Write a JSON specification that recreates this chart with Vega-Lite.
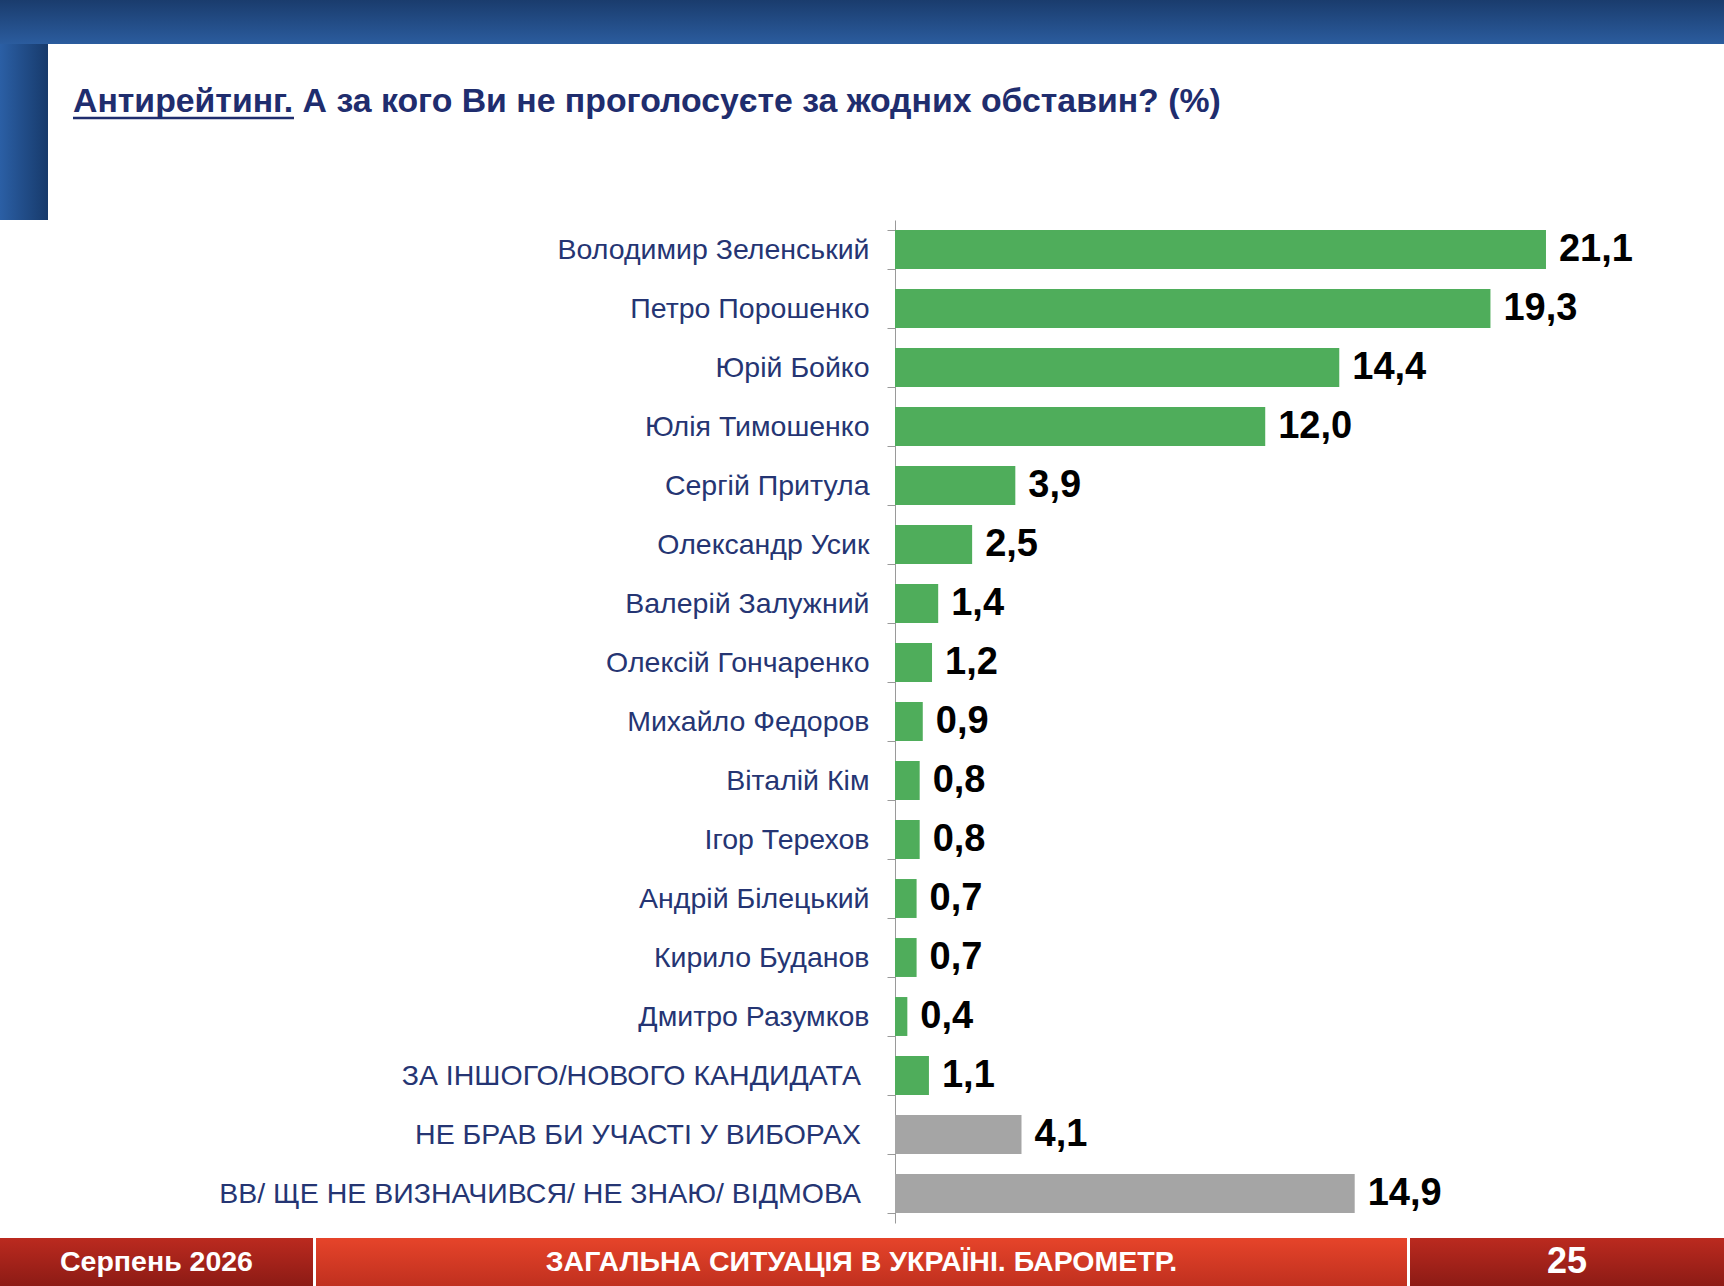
{
  "$schema": "https://vega.github.io/schema/vega-lite/v6.json",
  "padding": 0,
  "spacing": 0,
  "bounds": "flush",
  "background": "white",
  "config": {
    "view": {"stroke": null},
    "font": "Liberation Sans",
    "locale": {"number": {"decimal": ",", "thousands": " ", "grouping": [3], "currency": ["", " грн"]}}
  },
  "vconcat": [
    {
      "width": 1724,
      "height": 44,
      "data": {"values": [{"a": 0, "b": 1}]},
      "mark": {
        "type": "rect",
        "fill": {"gradient": "linear", "x1": 0, "y1": 0, "x2": 0, "y2": 1,
          "stops": [{"offset": 0, "color": "#1a3c6d"}, {"offset": 1, "color": "#2b5c9e"}]}
      },
      "encoding": {
        "x": {"field": "a", "type": "quantitative", "scale": {"domain": [0, 1]}, "axis": null},
        "x2": {"field": "b"},
        "y": {"field": "a", "type": "quantitative", "scale": {"domain": [0, 1]}, "axis": null},
        "y2": {"field": "b"}
      }
    },
    {
      "width": 1724,
      "height": 176,
      "data": {"values": [{"title": "Антирейтинг. А за кого Ви не проголосуєте за жодних обставин? (%)"}]},
      "layer": [
        {
          "mark": {
            "type": "rect",
            "fill": {"gradient": "linear", "x1": 0, "y1": 0, "x2": 1, "y2": 0,
              "stops": [{"offset": 0, "color": "#2b5fa5"}, {"offset": 1, "color": "#173a6b"}]}
          },
          "encoding": {"x": {"value": 0}, "x2": {"value": 48}, "y": {"value": 0}, "y2": {"value": "height"}}
        },
        {
          "mark": {"type": "text", "align": "left", "baseline": "alphabetic", "fontSize": 33.8, "fontWeight": "bold", "color": "#1f2d6e"},
          "encoding": {"text": {"field": "title"}, "x": {"value": 73}, "y": {"value": 68}}
        },
        {
          "mark": {"type": "rule", "color": "#1f2d6e", "strokeWidth": 2.5},
          "encoding": {"x": {"value": 73}, "x2": {"value": 294}, "y": {"value": 74}}
        }
      ]
    },
    {
      "width": 1724,
      "height": 1003,
      "data": {"values": [
        {"name": "Володимир Зеленський", "value": 21.1, "group": "кандидат"},
        {"name": "Петро Порошенко", "value": 19.3, "group": "кандидат"},
        {"name": "Юрій Бойко", "value": 14.4, "group": "кандидат"},
        {"name": "Юлія Тимошенко", "value": 12.0, "group": "кандидат"},
        {"name": "Сергій Притула", "value": 3.9, "group": "кандидат"},
        {"name": "Олександр Усик", "value": 2.5, "group": "кандидат"},
        {"name": "Валерій Залужний", "value": 1.4, "group": "кандидат"},
        {"name": "Олексій Гончаренко", "value": 1.2, "group": "кандидат"},
        {"name": "Михайло Федоров", "value": 0.9, "group": "кандидат"},
        {"name": "Віталій Кім", "value": 0.8, "group": "кандидат"},
        {"name": "Ігор Терехов", "value": 0.8, "group": "кандидат"},
        {"name": "Андрій Білецький", "value": 0.7, "group": "кандидат"},
        {"name": "Кирило Буданов", "value": 0.7, "group": "кандидат"},
        {"name": "Дмитро Разумков", "value": 0.4, "group": "кандидат"},
        {"name": "ЗА ІНШОГО/НОВОГО КАНДИДАТА", "value": 1.1, "group": "кандидат"},
        {"name": "НЕ БРАВ БИ УЧАСТІ У ВИБОРАХ", "value": 4.1, "group": "інше"},
        {"name": "ВВ/ ЩЕ НЕ ВИЗНАЧИВСЯ/ НЕ ЗНАЮ/ ВІДМОВА", "value": 14.9, "group": "інше"}
      ]},
      "encoding": {
        "y": {
          "field": "name",
          "type": "nominal",
          "sort": null,
          "scale": {"paddingInner": 0.34, "paddingOuter": 0.17},
          "axis": {
            "title": null,
            "offset": -895,
            "tickBand": "extent",
            "tickSize": 8,
            "tickColor": "#9a9a9a",
            "domainColor": "#9a9a9a",
            "labelFontSize": 28.5,
            "labelColor": "#253573",
            "labelPadding": 18,
            "labelLimit": 0,
            "labelExpr": "upper(datum.label) === datum.label ? '' : datum.label"
          }
        },
        "x": {"field": "value", "type": "quantitative", "scale": {"domain": [0, 26.87], "range": [895, 1724], "nice": false}, "axis": null}
      },
      "layer": [
        {
          "mark": {"type": "bar"},
          "encoding": {
            "color": {"field": "group", "type": "nominal", "scale": {"domain": ["кандидат", "інше"], "range": ["#4fad5b", "#a5a5a5"]}, "legend": null}
          }
        },
        {
          "mark": {"type": "text", "align": "left", "dx": 13, "fontSize": 38, "fontWeight": "bold", "color": "#000000"},
          "encoding": {"text": {"field": "value", "type": "quantitative", "format": ".1f"}}
        },
        {
          "transform": [{"filter": "upper(datum.name) === datum.name"}],
          "mark": {"type": "text", "align": "right", "dx": -34, "fontSize": 28.5, "color": "#253573"},
          "encoding": {"x": {"datum": 0}, "text": {"field": "name"}}
        }
      ]
    },
    {
      "width": 1724,
      "height": 15,
      "data": {"values": []},
      "mark": "point"
    },
    {
      "hconcat": [
        {
          "width": 313,
          "height": 48,
          "data": {"values": [{"t": "Серпень 2026"}]},
          "layer": [
            {
              "mark": {"type": "rect", "fill": {"gradient": "linear", "x1": 0, "y1": 0, "x2": 0, "y2": 1,
                "stops": [{"offset": 0, "color": "#bb2a1f"}, {"offset": 1, "color": "#8c1b15"}]}},
              "encoding": {"x": {"value": 0}, "x2": {"value": "width"}, "y": {"value": 0}, "y2": {"value": "height"}}
            },
            {
              "mark": {"type": "text", "fontSize": 28.5, "fontWeight": "bold", "color": "white"},
              "encoding": {"text": {"field": "t"}}
            }
          ]
        },
        {
          "width": 1091,
          "height": 48,
          "data": {"values": [{"t": "ЗАГАЛЬНА СИТУАЦІЯ В УКРАЇНІ. БАРОМЕТР."}]},
          "layer": [
            {
              "mark": {"type": "rect", "fill": {"gradient": "linear", "x1": 0, "y1": 0, "x2": 0, "y2": 1,
                "stops": [{"offset": 0, "color": "#e6442a"}, {"offset": 1, "color": "#c0301f"}]}},
              "encoding": {"x": {"value": 0}, "x2": {"value": "width"}, "y": {"value": 0}, "y2": {"value": "height"}}
            },
            {
              "mark": {"type": "text", "fontSize": 28.5, "fontWeight": "bold", "color": "white"},
              "encoding": {"text": {"field": "t"}}
            }
          ]
        },
        {
          "width": 314,
          "height": 48,
          "data": {"values": [{"t": "25"}]},
          "layer": [
            {
              "mark": {"type": "rect", "fill": {"gradient": "linear", "x1": 0, "y1": 0, "x2": 0, "y2": 1,
                "stops": [{"offset": 0, "color": "#bb2a1f"}, {"offset": 1, "color": "#8c1b15"}]}},
              "encoding": {"x": {"value": 0}, "x2": {"value": "width"}, "y": {"value": 0}, "y2": {"value": "height"}}
            },
            {
              "mark": {"type": "text", "fontSize": 36, "fontWeight": "bold", "color": "white"},
              "encoding": {"text": {"field": "t"}}
            }
          ]
        }
      ],
      "spacing": 3,
      "bounds": "flush"
    }
  ]
}
